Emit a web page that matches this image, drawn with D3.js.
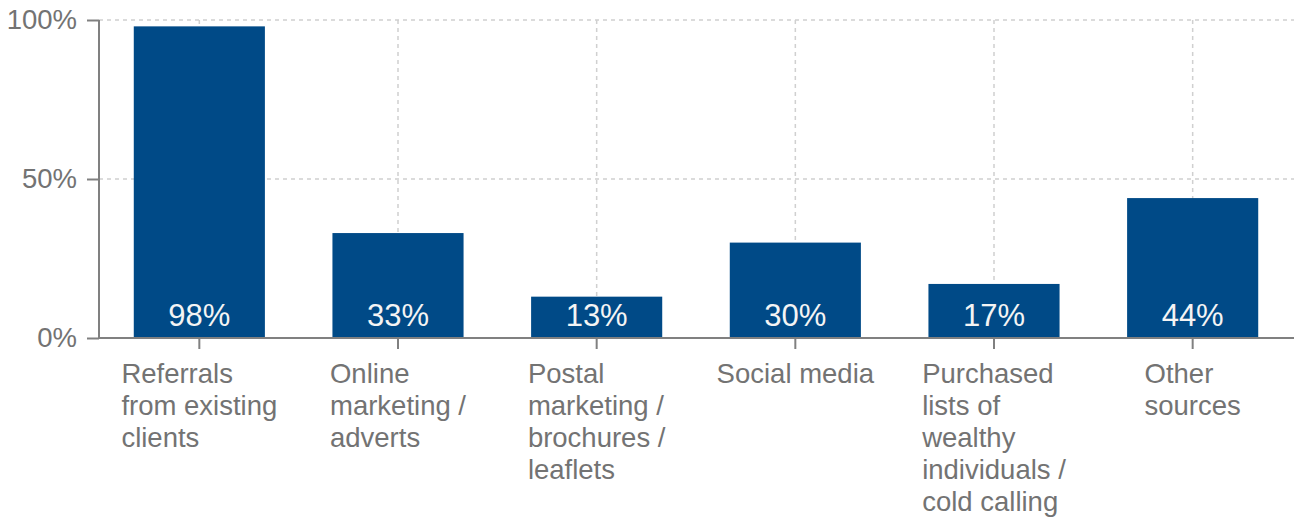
<!DOCTYPE html>
<html>
<head>
<meta charset="utf-8">
<script src="https://cdn.jsdelivr.net/npm/d3@7"></script>
<style>
  html, body { margin: 0; padding: 0; background: #fff; }
  svg { display: block; font-family: "Liberation Sans", Arial, sans-serif; }
</style>
</head>
<body>
<svg id="chart" width="1294" height="517"></svg>
<script>
// Lead sources and the share of respondents using each
const categories = [
  ["Referrals", "from existing", "clients"],
  ["Online", "marketing /", "adverts"],
  ["Postal", "marketing /", "brochures /", "leaflets"],
  ["Social media"],
  ["Purchased", "lists of", "wealthy", "individuals /", "cold calling"],
  ["Other", "sources"]
];
const values = [98, 33, 13, 30, 17, 44];
const yTicks = [0, 50, 100];
const yTickLabels = ["0%", "50%", "100%"];

(function draw() {
  const svg = d3.select("#chart");
  const plotLeft = 99, plotRight = 1292, plotTop = 20, plotBottom = 338;
  const axisColor = "#808080", textColor = "#737373", barColor = "#004a87";

  const x = d3.scaleBand()
    .domain(d3.range(values.length))
    .range([plotLeft + 1, plotRight])
    .paddingInner(0.34)
    .paddingOuter(0.17);
  const y = d3.scaleLinear().domain([0, 100]).range([plotBottom, plotTop]);
  const cx = i => x(i) + x.bandwidth() / 2;

  // horizontal dashed gridlines
  svg.append("g").selectAll("line")
    .data(yTicks.filter(d => d > 0))
    .join("line")
    .attr("x1", plotLeft).attr("x2", 1294)
    .attr("y1", d => y(d)).attr("y2", d => y(d))
    .attr("stroke", "#d0d0d0").attr("stroke-width", 1.5)
    .attr("stroke-dasharray", "4,4");

  // vertical dashed gridlines through category centres
  svg.append("g").selectAll("line")
    .data(values.map((v, i) => i))
    .join("line")
    .attr("x1", cx).attr("x2", cx)
    .attr("y1", plotTop).attr("y2", plotBottom)
    .attr("stroke", "#d0d0d0").attr("stroke-width", 1.5)
    .attr("stroke-dasharray", "4,4");

  // bars
  svg.append("g").selectAll("rect")
    .data(values)
    .join("rect")
    .attr("x", (d, i) => x(i))
    .attr("width", x.bandwidth())
    .attr("y", d => y(d))
    .attr("height", d => y(0) - y(d))
    .attr("fill", barColor);

  // value labels inside the bars
  svg.append("g").selectAll("text")
    .data(values)
    .join("text")
    .attr("x", (d, i) => cx(i))
    .attr("y", y(0) - 12)
    .attr("text-anchor", "middle")
    .attr("font-size", 31)
    .attr("fill", "#f4f4f4")
    .text(d => d + "%");

  // y axis
  const yAxis = d3.axisLeft(y)
    .tickValues(yTicks)
    .tickFormat((d, i) => yTickLabels[i])
    .tickSize(12)
    .tickPadding(10);
  const gy = svg.append("g").attr("transform", `translate(${plotLeft},0)`).call(yAxis);
  gy.select(".domain").attr("stroke", axisColor).attr("stroke-width", 2)
    .attr("d", `M0,${plotTop}V${plotBottom}`);
  gy.selectAll(".tick line").attr("stroke", axisColor).attr("stroke-width", 2);
  gy.selectAll(".tick text").attr("fill", textColor).attr("font-size", 27.5)
    .attr("font-family", "Liberation Sans, Arial, sans-serif");

  // x axis baseline and ticks
  const xAxis = d3.axisBottom(x).tickSize(11).tickFormat("");
  const gx = svg.append("g").attr("transform", `translate(0,${plotBottom})`).call(xAxis);
  gx.select(".domain").attr("stroke", axisColor).attr("stroke-width", 2)
    .attr("d", `M${plotLeft},0H1294`);
  gx.selectAll(".tick line").attr("stroke", axisColor).attr("stroke-width", 2);

  // category labels: block centred on the tick, lines left aligned
  const lab = svg.append("g").attr("fill", textColor).attr("font-size", 27.5);
  categories.forEach((lines, i) => {
    const t = lab.append("text").attr("y", 383);
    lines.forEach((s, j) => {
      t.append("tspan").attr("dy", j === 0 ? 0 : 32).text(s);
    });
    const w = d3.max(t.selectAll("tspan").nodes(), n => n.getComputedTextLength());
    t.selectAll("tspan").attr("x", cx(i) - w / 2);
  });
})();
</script>
</body>
</html>
